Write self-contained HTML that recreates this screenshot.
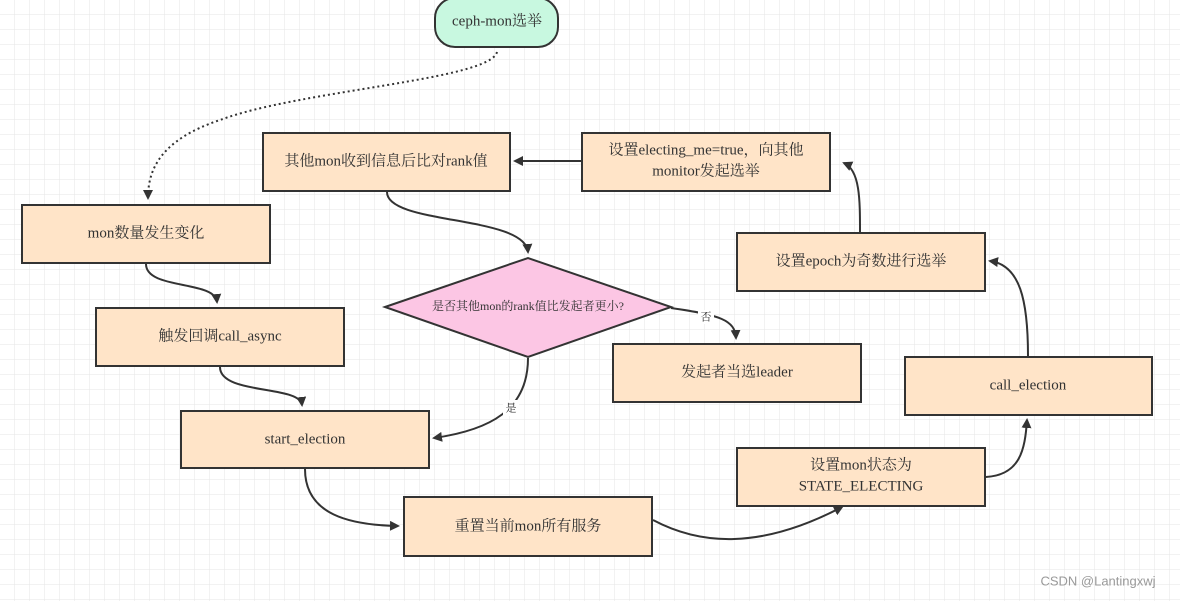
<!DOCTYPE html>
<html><head><meta charset="utf-8"><style>
body{margin:0;background:#fff}
svg{display:block}
text{font-family:"Liberation Serif","Noto Serif CJK SC",serif;fill:#333;font-size:15px;text-anchor:middle;dominant-baseline:middle}
</style></head><body>
<svg width="1180" height="601" viewBox="0 0 1180 601">
<defs>
<pattern id="g" width="15" height="15" patternUnits="userSpaceOnUse"><path d="M15 0V15H0" fill="none" stroke="#e6e6e6" stroke-width="1"/></pattern>
<marker id="a" markerWidth="10" markerHeight="10" refX="8" refY="5" orient="auto" markerUnits="userSpaceOnUse"><path d="M0,0 L10,5 L0,10 Z" fill="#333"/></marker>
</defs>
<rect width="1180" height="601" fill="url(#g)"/>
<g fill="none" stroke="#333" stroke-width="2">
<path d="M497 52 C490 80 300 90 220 120 C160 140 148 170 148 198" stroke-dasharray="2,3" marker-end="url(#a)"/>
<path d="M146 264 C146 290 215 280 217 302" marker-end="url(#a)"/>
<path d="M220 367 C220 395 300 385 302 405" marker-end="url(#a)"/>
<path d="M305 469 C305 515 350 525 398 526" marker-end="url(#a)"/>
<path d="M653 520 C700 545 760 550 842 507" marker-end="url(#a)"/>
<path d="M986 477 C1020 475 1025 450 1027 420" marker-end="url(#a)"/>
<path d="M1028 356 C1028 300 1020 265 990 261" marker-end="url(#a)"/>
<path d="M860 232 C860 200 860 170 844 163" marker-end="url(#a)"/>
<path d="M581 161 L515 161" marker-end="url(#a)"/>
<path d="M387 192 C387 225 525 215 528 252" marker-end="url(#a)"/>
<path d="M528 358 C528 410 490 430 434 438" marker-end="url(#a)"/>
<path d="M671 308 C720 315 735 320 736 338" marker-end="url(#a)"/>
</g>
<g stroke="#333" stroke-width="2" fill="#ffe4c8">
<rect x="435" y="-2" width="123" height="49" rx="20" fill="#c8f8e0"/>
<rect x="22" y="205" width="248" height="58"/>
<rect x="96" y="308" width="248" height="58"/>
<rect x="181" y="411" width="248" height="57"/>
<rect x="404" y="497" width="248" height="59"/>
<rect x="737" y="448" width="248" height="58"/>
<rect x="905" y="357" width="247" height="58"/>
<rect x="737" y="233" width="248" height="58"/>
<rect x="582" y="133" width="248" height="58"/>
<rect x="263" y="133" width="247" height="58"/>
<rect x="613" y="344" width="248" height="58"/>
<polygon points="385,307 528,258 671,307 528,357" fill="#fcc6e4"/>
</g>
<rect x="698" y="310" width="16" height="14" fill="#fff"/>
<rect x="503" y="400" width="16" height="16" fill="#fff"/>
<text x="497" y="22">ceph-mon选举</text>
<text x="146" y="234">mon数量发生变化</text>
<text x="220" y="337">触发回调call_async</text>
<text x="305" y="440">start_election</text>
<text x="528" y="527">重置当前mon所有服务</text>
<text x="861" y="466">设置mon状态为</text>
<text x="861" y="487">STATE_ELECTING</text>
<text x="1028" y="386">call_election</text>
<text x="861" y="262">设置epoch为奇数进行选举</text>
<text x="706" y="151">设置electing_me=true，向其他</text>
<text x="706" y="172">monitor发起选举</text>
<text x="386" y="162">其他mon收到信息后比对rank值</text>
<text x="737" y="373">发起者当选leader</text>
<text x="528" y="307" style="font-size:12px">是否其他mon的rank值比发起者更小?</text>
<text x="706" y="318" style="font-size:11px">否</text>
<text x="511" y="409" style="font-size:11px">是</text>
<text x="1098" y="582" style="font-family:'Liberation Sans',sans-serif;font-size:13px;fill:#999">CSDN @Lantingxwj</text>
</svg>
</body></html>
